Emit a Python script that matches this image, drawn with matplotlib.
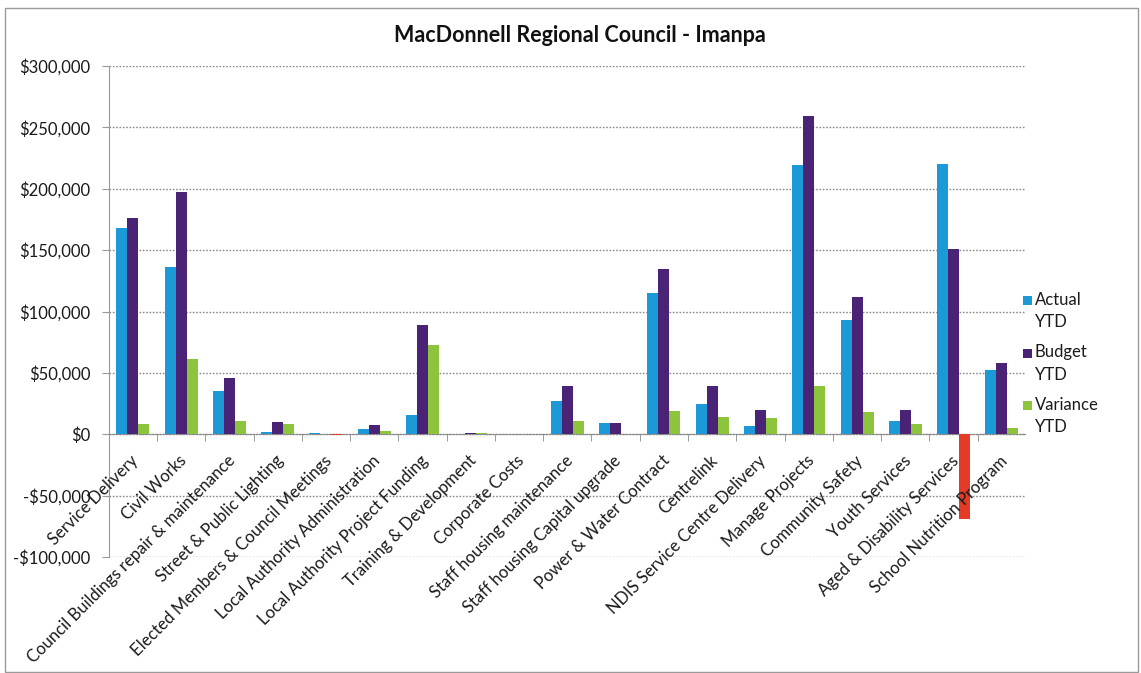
import matplotlib
matplotlib.use("Agg")
import matplotlib.pyplot as plt
import numpy as np
from matplotlib.ticker import FuncFormatter, FixedLocator
from matplotlib.transforms import ScaledTranslation
from matplotlib.patches import Rectangle

plt.rcParams['font.family'] = ['Lato', 'DejaVu Sans']

categories = ["Service Delivery", "Civil Works", "Council Buildings repair & maintenance",
              "Street & Public Lighting", "Elected Members & Council Meetings",
              "Local Authority Administration", "Local Authority Project Funding",
              "Training & Development", "Corporate Costs", "Staff housing maintenance",
              "Staff housing Capital upgrade", "Power & Water Contract", "Centrelink",
              "NDIS Service Centre Delivery", "Manage Projects", "Community Safety",
              "Youth Services", "Aged & Disability Services", "School Nutrition Program"]

actual_ytd = [168000, 136000, 35000, 1500, 700, 4000, 16000, 0, 0, 27000, 9000,
              115000, 25000, 6500, 219000, 93000, 11000, 220000, 52000]
budget_ytd = [176000, 197000, 46000, 10000, 0, 7500, 89000, 1000, 500, 39000, 9000,
              135000, 39000, 20000, 259000, 112000, 20000, 151000, 58000]
variance_ytd = [8000, 61000, 11000, 8500, -700, 3000, 73000, 1000, 500, 11000, 0,
                19000, 14000, 13000, 39000, 18000, 8500, -69000, 5000]

series_names = ["Actual", "Budget", "Variance"]
series_suffix = "YTD"
title = "MacDonnell Regional Council - Imanpa"

c_actual = "#1c9ad8"
c_budget = "#4a2276"
c_var = "#8dc43e"
c_neg = "#e33b26"
series_colors = [c_actual, c_budget, c_var]

fig = plt.figure(figsize=(11.41, 6.73), dpi=100)
ax = fig.add_axes([108.7/1141, 1 - 557/673, (1026-108.7)/1141, (557-66)/673])

x = np.arange(len(categories))
w = 0.228
ax.bar(x - w, actual_ytd, w, color=c_actual, zorder=3)
ax.bar(x, budget_ytd, w, color=c_budget, zorder=3)
vcols = [c_var if v >= 0 else c_neg for v in variance_ytd]
ax.bar(x + w, variance_ytd, w, color=vcols, zorder=3)

ax.set_xlim(-0.5, len(categories) - 0.5)
ax.set_ylim(-100000, 300000)
ax.set_yticks(np.arange(-100000, 300001, 50000))
ax.yaxis.set_major_formatter(FuncFormatter(lambda v, p: ("-$" if v < 0 else "$") + f"{abs(int(v)):,}"))
ax.tick_params(axis='y', length=5, width=0.8, color='#9a9a9a', pad=8, labelsize=12, labelcolor='#1a1a1a')
ax.grid(axis='y', linestyle=(0, (1.2, 1.2)), color='#8a8a8a', linewidth=1.0, zorder=0)

for s in ['top', 'right']:
    ax.spines[s].set_visible(False)
ax.spines['left'].set_color('#9a9a9a')
ax.spines['bottom'].set_position(('data', 0))
ax.spines['bottom'].set_linestyle((0, (1.2, 1.2)))
ax.spines['bottom'].set_color('#8a8a8a')
ax.set_xticks([])
ax.xaxis.set_minor_locator(FixedLocator(np.arange(0.5, len(categories) - 0.5, 1.0)))
ax.tick_params(axis='x', which='minor', length=5, color='#8a8a8a', direction='out')

off = ScaledTranslation(3/100, -24/100, fig.dpi_scale_trans)
for i, lab in enumerate(categories):
    ax.text(i, 0, lab, transform=ax.transData + off, rotation=45, ha='right', va='center',
            rotation_mode='anchor', fontsize=12, color='#1a1a1a')

fig.text(580/1141, 1 - 35/673, title, fontsize=15.5, fontweight='bold', color='#111111',
         ha='center', va='center')

# legend (square aligned with the first line like the reference)
for k, (name, col) in enumerate(zip(series_names, series_colors)):
    ytop = 300 + 52.5 * k
    fig.patches.append(Rectangle((1023/1141, 1 - (ytop + 5)/673), 9/1141, 9/673,
                                 transform=fig.transFigure, facecolor=col, edgecolor='none'))
    fig.text(1035/1141, 1 - ytop/673, name, fontsize=12, color='#1a1a1a', ha='left', va='center')
    fig.text(1035/1141, 1 - (ytop + 22)/673, series_suffix, fontsize=12, color='#1a1a1a',
             ha='left', va='center')

fig.patches.append(Rectangle((5/1141, 1/673), 1133/1141, 664/673, transform=fig.transFigure,
                             fill=False, edgecolor='#9a9a9a', linewidth=1.0))

fig.savefig("out.png", dpi=100)
